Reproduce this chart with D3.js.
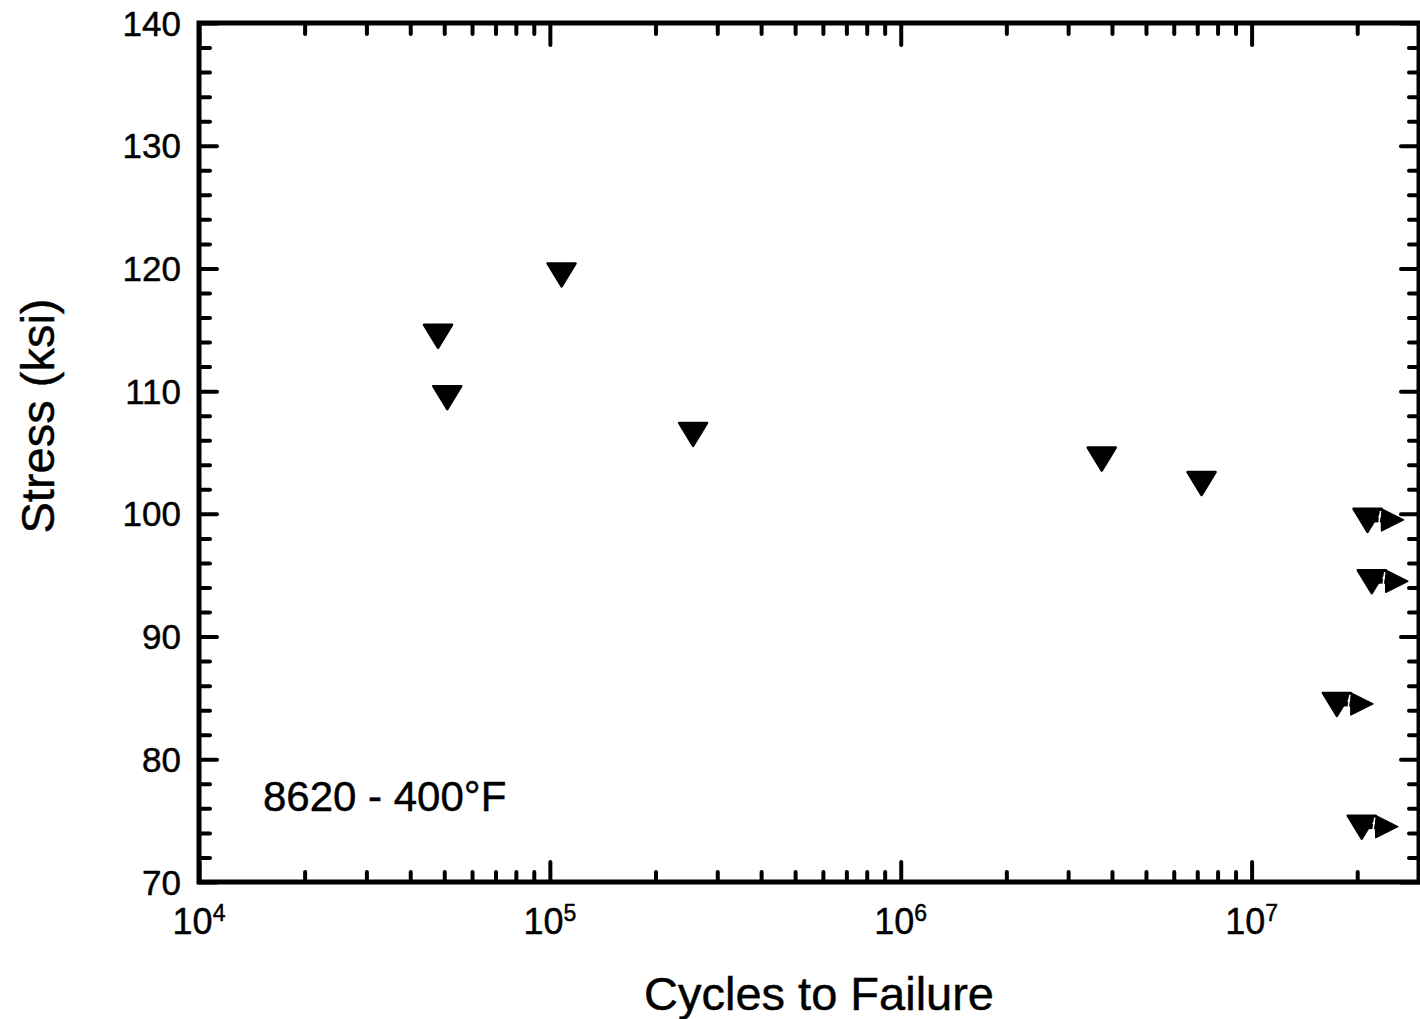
<!DOCTYPE html>
<html>
<head>
<meta charset="utf-8">
<script src="https://cdn.jsdelivr.net/npm/d3@7"></script>
<style>
  html, body { margin: 0; padding: 0; background: #fff; }
  svg { display: block; }
  text { font-family: "Liberation Sans", Arial, Helvetica, sans-serif; fill: #000; stroke: #000; stroke-width: 0.45px; }
</style>
</head>
<body>
<svg id="chart" width="1420" height="1019"></svg>
<script>
// ---- data ----
const failCycles   = [4.8e4, 5.1e4, 1.08e5, 2.56e5, 3.74e6, 7.2e6];
const failStress   = [115, 110, 120, 107, 105, 103];
const runoutCycles = [2.14e7, 2.2e7, 1.75e7, 2.06e7];
const runoutStress = [100, 95, 85, 75];
const xMajorTicks  = [1e4, 1e5, 1e6, 1e7];
const xTickExp     = ["4", "5", "6", "7"];
const yMajorTicks  = [70, 80, 90, 100, 110, 120, 130, 140];
const xTitle = "Cycles to Failure";
const yTitle = "Stress (ksi)";
const noteText = "8620 - 400°F";

// ---- layout ----
const L = 199, R = 1419, T = 23, B = 882;
const svg = d3.select("#chart");
svg.append("rect").attr("width", 1420).attr("height", 1019).attr("fill", "#fff");

const x = d3.scaleLog().domain([1e4, 3e7]).range([L, R]);
const y = d3.scaleLinear().domain([70, 140]).range([B, T]);

const xMinor = x.ticks().filter(v => !xMajorTicks.includes(v) && v < 3e7);
const yMinor = d3.range(70, 141, 2).filter(v => v % 10 !== 0);

function styleAxis(g, w) {
  g.select(".domain").remove();
  g.selectAll(".tick line").attr("stroke", "#000").attr("stroke-width", w).attr("stroke-linecap", "round");
  g.selectAll(".tick text").remove();
}

// bottom ticks (inward)
svg.append("g").attr("transform", `translate(0,${B})`)
  .call(d3.axisBottom(x).tickValues(xMinor).tickSize(-10).tickFormat(""))
  .call(g => styleAxis(g, 4));
svg.append("g").attr("transform", `translate(0,${B})`)
  .call(d3.axisBottom(x).tickValues(xMajorTicks).tickSize(-20).tickFormat(""))
  .call(g => styleAxis(g, 4));
// top ticks (inward)
svg.append("g").attr("transform", `translate(0,${T})`)
  .call(d3.axisTop(x).tickValues(xMinor).tickSize(-11).tickFormat(""))
  .call(g => styleAxis(g, 4));
svg.append("g").attr("transform", `translate(0,${T})`)
  .call(d3.axisTop(x).tickValues(xMajorTicks).tickSize(-22).tickFormat(""))
  .call(g => styleAxis(g, 4));
// left ticks (inward)
svg.append("g").attr("transform", `translate(${L},0)`)
  .call(d3.axisLeft(y).tickValues(yMinor).tickSize(-11).tickFormat(""))
  .call(g => styleAxis(g, 4));
svg.append("g").attr("transform", `translate(${L},0)`)
  .call(d3.axisLeft(y).tickValues(yMajorTicks).tickSize(-18).tickFormat(""))
  .call(g => styleAxis(g, 4));
// right ticks (inward)
svg.append("g").attr("transform", `translate(${R},0)`)
  .call(d3.axisRight(y).tickValues(yMinor).tickSize(-10).tickFormat(""))
  .call(g => styleAxis(g, 4));
svg.append("g").attr("transform", `translate(${R},0)`)
  .call(d3.axisRight(y).tickValues(yMajorTicks).tickSize(-18).tickFormat(""))
  .call(g => styleAxis(g, 4));

// frame
svg.append("rect")
  .attr("x", L).attr("y", T).attr("width", R - L).attr("height", B - T)
  .attr("fill", "none").attr("stroke", "#000").attr("stroke-width", 5);

// y tick labels
svg.append("g").selectAll("text").data(yMajorTicks).join("text")
  .attr("x", 181).attr("y", d => y(d))
  .attr("dy", "0.36em")
  .attr("text-anchor", "end")
  .attr("font-size", 35)
  .text(d => d);

// x tick labels: 10 with superscript exponent
const xl = svg.append("g").selectAll("text").data(xMajorTicks).join("text")
  .attr("x", d => x(d)).attr("y", 934)
  .attr("text-anchor", "middle")
  .attr("font-size", 36);
xl.append("tspan").text("10");
xl.append("tspan").attr("font-size", 23).attr("dy", -13).text((d, i) => xTickExp[i]);

// axis titles
svg.append("text")
  .attr("x", 819).attr("y", 1010)
  .attr("text-anchor", "middle")
  .attr("font-size", 47)
  .text(xTitle);
svg.append("text")
  .attr("transform", "translate(54,416) rotate(-90)")
  .attr("text-anchor", "middle")
  .attr("font-size", 47)
  .text(yTitle);

// annotation
svg.append("text")
  .attr("x", 263).attr("y", 811)
  .attr("font-size", 42)
  .text(noteText);

// marker: downward triangle, ~30 wide x 25 tall, top edge ~6px above the value
function triPath(cx, cy) {
  const p = d3.path();
  p.moveTo(cx - 14, cy - 5);
  p.lineTo(cx + 14, cy - 5);
  p.lineTo(cx, cy + 18);
  p.closePath();
  return p.toString();
}
const failures = failCycles.map((c, i) => ({c, s: failStress[i]}));
const runouts = runoutCycles.map((c, i) => ({c, s: runoutStress[i]}));

svg.append("g").selectAll("path").data(failures).join("path")
  .attr("d", d => triPath(x(d.c), y(d.s)))
  .attr("fill", "#000").attr("stroke", "#000")
  .attr("stroke-width", 2.5).attr("stroke-linejoin", "round");

const rg = svg.append("g");
rg.selectAll("path.tri").data(runouts).join("path").attr("class", "tri")
  .attr("d", d => triPath(x(d.c), y(d.s)))
  .attr("fill", "#000").attr("stroke", "#000")
  .attr("stroke-width", 2.5).attr("stroke-linejoin", "round");
// runout arrows
rg.selectAll("line.shaft").data(runouts).join("line").attr("class", "shaft")
  .attr("x1", d => x(d.c)).attr("x2", d => x(d.c) + 20)
  .attr("y1", d => y(d.s) + 6).attr("y2", d => y(d.s) + 6)
  .attr("stroke", "#000").attr("stroke-width", 5);
rg.selectAll("path.head").data(runouts).join("path").attr("class", "head")
  .attr("d", d => {
    const cx = x(d.c), cy = y(d.s) + 6;
    const p = d3.path();
    p.moveTo(cx + 14, cy - 11);
    p.lineTo(cx + 36, cy);
    p.lineTo(cx + 14, cy + 11);
    p.closePath();
    return p.toString();
  })
  .attr("fill", "#000").attr("stroke", "#000").attr("stroke-width", 1.5).attr("stroke-linejoin", "round");
// small white notch where arrow meets triangle
rg.selectAll("path.notch").data(runouts).join("path").attr("class", "notch")
  .attr("d", d => {
    const cx = x(d.c), cy = y(d.s) + 6;
    const p = d3.path();
    p.moveTo(cx + 13, cy - 9);
    p.lineTo(cx + 11, cy + 6);
    return p.toString();
  })
  .attr("stroke", "#fff").attr("stroke-width", 1.5).attr("fill", "none");
</script>
</body>
</html>
